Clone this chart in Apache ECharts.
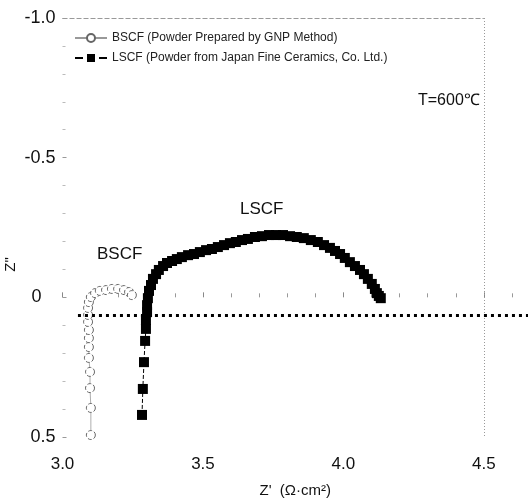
<!DOCTYPE html>
<html>
<head>
<meta charset="utf-8">
<script src="https://cdn.jsdelivr.net/npm/echarts@6/dist/echarts.min.js"></script>
<style>html,body{margin:0;padding:0;background:#fff;}#c{width:528px;height:502px;}</style>
</head>
<body>
<div id="c"></div>
<script>
// ---- data ----
const bscfX = [3.101,3.101,3.098,3.098,3.094,3.094,3.094,3.094,3.091,3.091,3.091,3.094,3.101,3.116,3.133,3.155,3.176,3.198,3.219,3.237,3.247];
const bscfY = [0.493,0.396,0.325,0.267,0.217,0.178,0.146,0.117,0.088,0.063,0.038,0.017,-0.001,-0.015,-0.023,-0.026,-0.030,-0.030,-0.026,-0.019,-0.008];
const lscfX = [3.283,3.286,3.290,3.294,3.297,3.297,3.301,3.301,3.304,3.308,3.315,3.322,3.333,3.343,3.358,3.372,3.390,3.407,3.425,3.447,3.468,3.489,3.511,3.532,3.553,3.575,3.596,3.617,3.639,3.660,3.685,3.710,3.735,3.760,3.785,3.810,3.834,3.859,3.884,3.909,3.931,3.952,3.970,3.988,4.005,4.023,4.041,4.059,4.073,4.087,4.101,4.112,4.119,4.126,4.133];
const lscfY = [0.421,0.328,0.232,0.156,0.113,0.081,0.053,0.028,0.003,-0.023,-0.044,-0.066,-0.083,-0.098,-0.112,-0.123,-0.130,-0.137,-0.144,-0.151,-0.155,-0.162,-0.169,-0.173,-0.180,-0.187,-0.194,-0.198,-0.205,-0.209,-0.216,-0.219,-0.223,-0.223,-0.223,-0.219,-0.216,-0.212,-0.205,-0.198,-0.187,-0.177,-0.166,-0.155,-0.141,-0.126,-0.112,-0.098,-0.083,-0.066,-0.048,-0.030,-0.015,-0.005,0.003];
const refLineX = [3.055, 4.657];
const refLineY = [0.065, 0.065];
const xTicks = [3.0, 3.5, 4.0, 4.5];
const yTicks = [-1.0, -0.5, 0, 0.5];
const seriesNames = ['BSCF (Powder Prepared by GNP Method)', 'LSCF (Powder from Japan Fine Ceramics, Co. Ltd.)'];

const zip = (a, b) => a.map((v, i) => [v, b[i]]);
const FONT = 'Liberation Sans, Arial, sans-serif';
const xMin = xTicks[0], xMax = xTicks[xTicks.length - 1];
const yMin = yTicks[0], yMax = yTicks[yTicks.length - 1];

const chart = echarts.init(document.getElementById('c'), null, {renderer: 'canvas'});
chart.setOption({
  animation: false,
  backgroundColor: '#fff',
  textStyle: {fontFamily: FONT},
  grid: {left: 62.5, right: 0, top: 18, bottom: 65, containLabel: false, outerBoundsMode: 'none'},
  legend: {
    orient: 'vertical', left: 69, top: 27, itemWidth: 32, itemHeight: 10, itemGap: 8,
    textStyle: {fontSize: 12, color: '#222', fontFamily: FONT},
    data: seriesNames
  },
  xAxis: [{
    type: 'value', min: xMin, max: refLineX[1], interval: 0.5,
    axisLine: {show: false},
    axisTick: {show: true, inside: true, length: 5, lineStyle: {color: '#888'}},
    minorTick: {show: true, splitNumber: 5, length: 4, lineStyle: {color: '#999'}},
    splitLine: {show: false},
    axisLabel: {fontSize: 17, color: '#111', margin: 19, showMaxLabel: false,
      formatter: v => xTicks.some(t => Math.abs(t - v) < 1e-6) ? v.toFixed(1) : ''},
    name: "Z'  (Ω·cm²)", nameLocation: 'middle', nameGap: 46, nameMoveOverlap: false,
    nameTextStyle: {fontSize: 15, color: '#111'}
  }],
  yAxis: [{
    type: 'value', inverse: true, min: yMin, max: yMax, interval: 0.5,
    axisLine: {show: false},
    axisTick: {show: true, inside: true, length: 4, lineStyle: {color: '#999'}},
    minorTick: {show: true, splitNumber: 5, length: 3, lineStyle: {color: '#bbb'}},
    splitLine: {show: false},
    axisLabel: {
      fontSize: 18, color: '#111', margin: 7,
      formatter: v => v === 0 ? '{z|0}' : v.toFixed(1),
      rich: {z: {fontSize: 18, color: '#111', padding: [0, 14, 0, 0]}}
    },
    name: 'Z"', nameLocation: 'middle', nameGap: 44, nameMoveOverlap: false,
    nameTextStyle: {fontSize: 15, color: '#111', padding: [0, 74, 0, 0]}
  }],
  series: [{
    name: seriesNames[0], type: 'line', data: zip(bscfX, bscfY),
    symbol: 'circle', symbolSize: 9, clip: false,
    itemStyle: {color: '#fff', borderColor: '#666', borderWidth: 1, borderType: 'dashed'},
    lineStyle: {color: '#999', width: 0.8}, z: 3
  }, {
    name: seriesNames[1], type: 'line', data: zip(lscfX, lscfY),
    symbol: 'rect', symbolSize: 10, clip: false,
    itemStyle: {color: '#000'},
    lineStyle: {color: '#000', width: 1, type: 'dashed'}, z: 4
  }, {
    name: 'ref', type: 'line', data: zip(refLineX, refLineY),
    symbol: 'none', clip: false, silent: true,
    lineStyle: {color: '#000', width: 3, type: [3, 4]}, z: 5,
    markLine: {
      silent: true, symbol: 'none', label: {show: false},
      data: [
        [{coord: [xMin, yMin], lineStyle: {color: '#999', type: [5, 2], width: 1}}, {coord: [xMax, yMin]}],
        [{coord: [xMax, yMin], lineStyle: {color: '#999', type: [1, 2], width: 1}}, {coord: [xMax, yMax]}]
      ]
    }
  }],
  graphic: [
    {type: 'text', left: 97, top: 246, style: {text: 'BSCF', font: '17px ' + FONT, fill: '#111'}},
    {type: 'text', left: 240, top: 201, style: {text: 'LSCF', font: '17px ' + FONT, fill: '#111'}},
    {type: 'text', left: 418, top: 93, style: {text: 'T=600℃', font: '16px ' + FONT, fill: '#111'}}
  ]
});
</script>
</body>
</html>
